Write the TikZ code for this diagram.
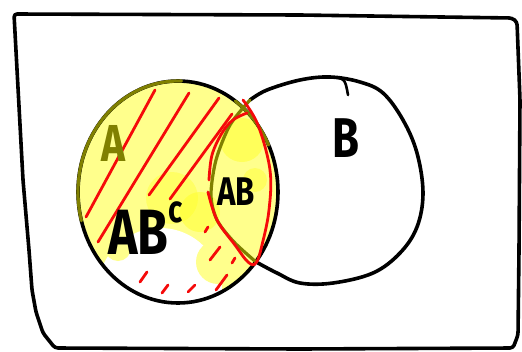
\documentclass[tikz,border=0pt]{standalone}
\usepackage{fontspec}
\setmainfont{Fira Sans}
\definecolor{fillyellow}{RGB}{255,255,140}
\definecolor{brightyellow}{RGB}{255,255,30}
\definecolor{redink}{RGB}{245,10,10}
\definecolor{oliveink}{RGB}{128,128,0}
\begin{document}
\begin{tikzpicture}[x=1pt,y=-1pt,
	pen/.style={line width=3.6pt, line cap=round, line join=round},
	redpen/.style={color=redink, line width=2.8pt, line cap=round, line join=round},
	olivepen/.style={color=oliveink, line width=3.2pt, line cap=round},
	handtext/.style={inner sep=0pt, xscale=0.78, transform shape, font=\fontsize{#1}{#1}\selectfont\bfseries}]
	\useasboundingbox (0,0) rectangle (522,351);
	
	% frame
	\draw[pen, rounded corners=3pt] (14,14) -- (300,15) -- (512,18) -- (517,22) -- (520,100) -- (519,250) -- (518,335) -- (513,348) -- (300,349) -- (55,348) -- (43,333) -- (36,312) -- (32,290) -- (29,250) -- (23,180) -- cycle;
	
	% set A, filled
	\fill[fillyellow] (178,192) ellipse[x radius=100, y radius=111];
	\begin{scope}
		\clip (178,192) ellipse[x radius=100, y radius=111];
		\fill[white] (160,290) ellipse[x radius=62, y radius=62];
		\fill[white] (150,300) ellipse[x radius=60, y radius=20];
		\fill[fillyellow] (218,262) circle[radius=22];
		\fill[fillyellow] (118,248) circle[radius=13];
		\fill[brightyellow, opacity=0.45] (200,212) circle[radius=20];
		\fill[brightyellow, opacity=0.45] (242,140) circle[radius=22];
		\fill[brightyellow, opacity=0.35] (172,198) circle[radius=26];
		\fill[brightyellow, opacity=0.4] (255,180) circle[radius=12];
	\end{scope}
	\draw[pen] (178,192) ellipse[x radius=100, y radius=111];
	\draw[olivepen] (178,192) ++(165:100 and 111) arc[start angle=165, end angle=272, x radius=100, y radius=111];
	\draw[olivepen] (178,192) ++(305:100 and 111) arc[start angle=305, end angle=335, x radius=100, y radius=111];
	
	% set B
	\draw[pen] plot[smooth, tension=0.6] coordinates {(250,100) (267,90) (300,80) (330,77) (360,82) (383,93) (403,120) (417,153) (423,193) (417,227) (400,253) (373,273) (333,283) (300,283) (277,273) (258,263)};
	\draw[pen, line width=2.6pt] (328,77) .. controls (345,78) .. (348,95);
	\draw[olivepen] plot[smooth] coordinates {(250,100) (230,125) (216,160) (211,195) (217,220) (234,242) (256,262)};
	
	% red marks
	\draw[redpen] plot[smooth, tension=0.6] coordinates {(243,100) (258,125) (270,170) (269,210) (262,245) (256,263) (248,262) (235,245) (217,220) (208,192)};
	\draw[redpen] plot[smooth, tension=0.6] coordinates {(209,180) (212,155) (222,133) (233,120) (247,113)};
	\draw[redpen] (155,90) -- (86,217);
	\draw[redpen] (189,93) -- (98,242);
	\draw[redpen] (219,98) -- (149,195);
	\draw[redpen] (232,114) -- (170,199);
	\draw[redpen] (112,252) -- (113,249);
	\draw[redpen] (140,282) -- (147,272);
	\draw[redpen] (162,293) -- (168,285);
	\draw[redpen] (188,292) -- (195,285);
	\draw[redpen] (216,290) -- (227,275);
	\draw[redpen] (210,260) -- (220,247);
	\draw[redpen] (232,263) -- (235,258);
	\draw[redpen] (205,232) -- (208,227);
	
	% labels
	\node[handtext=52pt, text=oliveink] (labelA) at (113,143) {A};
	\node[handtext=64pt, anchor=west] (labelABc) at (108,228) {AB\raisebox{0.5em}{\fontsize{38pt}{38pt}\selectfont c}};
	\node[handtext=40pt] (labelAB) at (236,192) {AB};
	\node[handtext=56pt] (labelB) at (346,138) {B};
	
\end{tikzpicture}
\end{document}
